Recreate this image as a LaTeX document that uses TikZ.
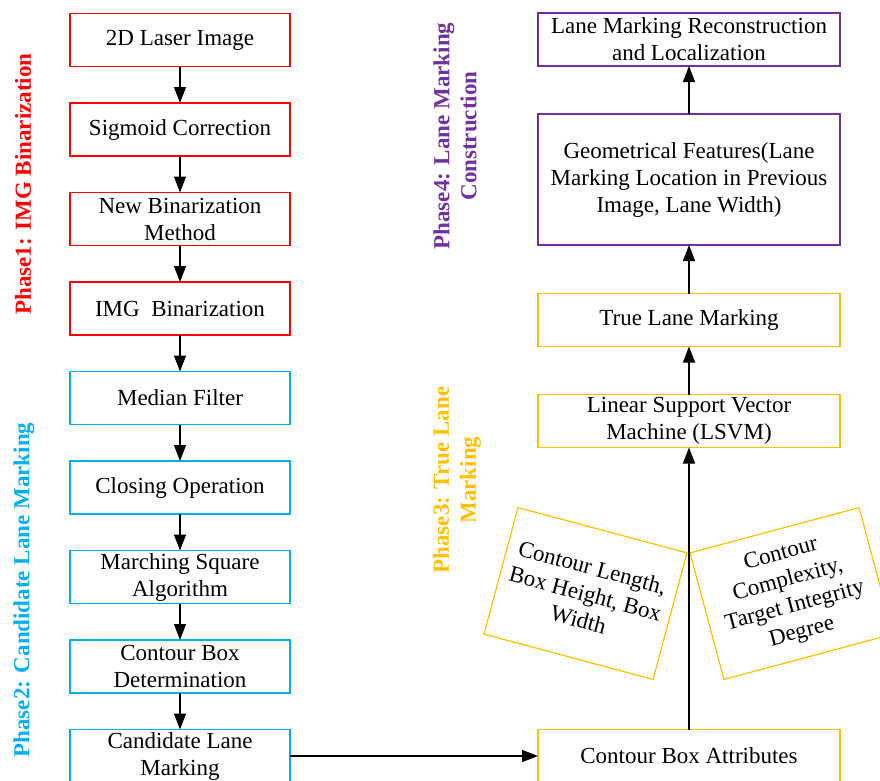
\documentclass[tikz,border=0pt]{standalone}
\usepackage{fontspec}
\setmainfont{Liberation Serif}
\usetikzlibrary{positioning,arrows.meta}
\definecolor{phaseone}{HTML}{FF0000}
\definecolor{phasetwo}{HTML}{00B0F0}
\definecolor{phasethree}{HTML}{FFC000}
\definecolor{phasefour}{HTML}{7030A0}

\begin{document}
\begin{tikzpicture}[
  x=1pt,y=-1pt,
  node distance=36.5pt,
  >={Triangle[length=16pt,width=12pt]},
  every node/.style={font=\fontsize{23}{27}\selectfont,align=center,inner sep=1pt,outer sep=0pt},
  box/.style={draw,line width=1.2pt,minimum width=220pt,minimum height=53pt},
  rbox/.style={box,minimum width=302pt},
  tilted/.style={draw=phasethree,line width=1.2pt,minimum width=175pt,minimum height=131pt},
  phase/.style={font=\fontsize{23}{27}\selectfont\bfseries,rotate=90}
]
\useasboundingbox (0,0) rectangle (880,780);
\clip (0,0) rectangle (880,780);

% left column
\node[box,draw=phaseone] (laser) at (180,40) {2D Laser Image};
\node[box,draw=phaseone,below=of laser] (sigmoid) {Sigmoid Correction};
\node[box,draw=phaseone,below=of sigmoid] (newbin) {New Binarization\\Method};
\node[box,draw=phaseone,below=of newbin] (imgbin) {IMG\ \ Binarization};
\node[box,draw=phasetwo,below=of imgbin] (median) {Median Filter};
\node[box,draw=phasetwo,below=of median] (closing) {Closing Operation};
\node[box,draw=phasetwo,below=of closing] (marching) {Marching Square\\Algorithm};
\node[box,draw=phasetwo,below=of marching] (contour) {Contour Box\\Determination};
\node[box,draw=phasetwo,below=of contour] (cand) {Candidate Lane\\Marking};

% right column
\node[rbox,draw=phasefour] (recon) at (689,39.5) {Lane Marking Reconstruction\\and Localization};
\node[rbox,draw=phasefour,minimum height=131pt,below=48pt of recon] (geom) {Geometrical Features(Lane\\Marking Location in Previous\\Image, Lane Width)};
\node[rbox,draw=phasethree,below=48.5pt of geom] (truelane) {True Lane Marking};
\node[rbox,draw=phasethree,below=48pt of truelane] (lsvm) {Linear Support Vector\\Machine (LSVM)};
\node[rbox,draw=phasethree,right=248pt of cand] (attr) {Contour Box Attributes};

% tilted attribute boxes
\node[tilted,rotate=-15] (lengths) at (585.5,593.5) {Contour Length,\\Box Height, Box\\Width};
\node[tilted,rotate=15] (complexity) at (791.5,593.5) {Contour\\Complexity,\\Target Integrity\\Degree};

% phase labels
\node[phase,text=phaseone] (p1) at (23,184) {Phase1: IMG Binarization};
\node[phase,text=phasetwo] (p2) at (24,590) {Phase2: Candidate Lane Marking};
\node[phase,text=phasefour] (p4) at (455,136) {Phase4: Lane Marking\\Construction};
\node[phase,text=phasethree] (p3) at (457,480) {Phase3: True Lane\\Marking};

\draw[->,line width=1.2pt] (laser)--(sigmoid);
\draw[->,line width=1.2pt] (sigmoid)--(newbin);
\draw[->,line width=1.2pt] (newbin)--(imgbin);
\draw[->,line width=1.2pt] (imgbin)--(median);
\draw[->,line width=1.2pt] (median)--(closing);
\draw[->,line width=1.2pt] (closing)--(marching);
\draw[->,line width=1.2pt] (marching)--(contour);
\draw[->,line width=1.2pt] (contour)--(cand);
\draw[->,line width=1.2pt] (cand)--(attr);
\draw[->,line width=1.2pt] (attr)--(lsvm);
\draw[->,line width=1.2pt] (lsvm)--(truelane);
\draw[->,line width=1.2pt] (truelane)--(geom);
\draw[->,line width=1.2pt] (geom)--(recon);
\end{tikzpicture}
\end{document}
